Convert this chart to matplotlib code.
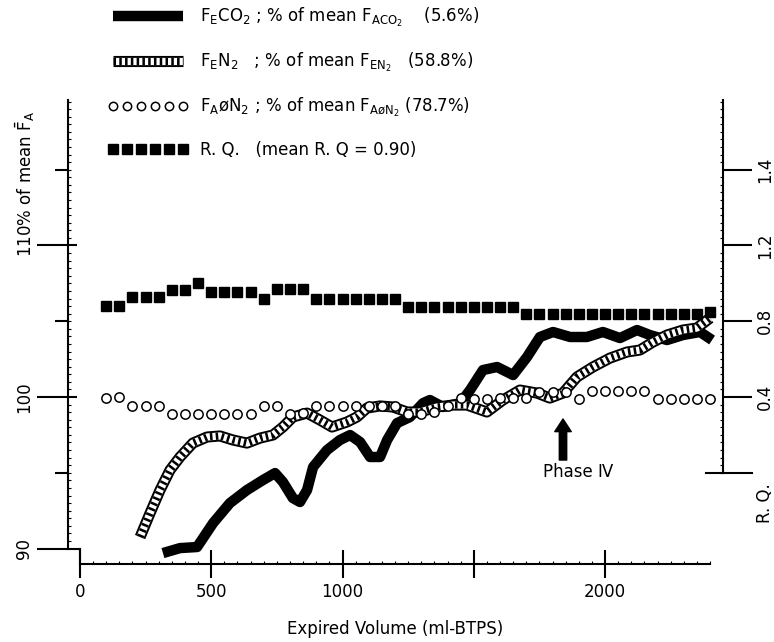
import matplotlib
matplotlib.use("agg")
import matplotlib.pyplot as plt
import matplotlib.ticker as ticker
import matplotlib.transforms as mtransforms
from matplotlib.lines import Line2D
from matplotlib.legend_handler import HandlerTuple
import numpy as np

plt.rcParams['font.family'] = ['DejaVu Sans']
plt.rcParams['mathtext.fontset'] = 'dejavusans'

# expired volume (ml) for the sampled points (R.Q. and FA0N2)
sample_volume = [100, 150, 200, 250, 300, 350, 400, 450, 500, 550, 600, 650, 700, 750,
                 800, 850, 900, 950, 1000, 1050, 1100, 1150, 1200, 1250, 1300, 1350,
                 1400, 1450, 1500, 1550, 1600, 1650, 1700, 1750, 1800, 1850, 1900,
                 1950, 2000, 2050, 2100, 2150, 2200, 2250, 2300, 2350, 2400]

# R.Q. values (right axis)
rq = [0.88, 0.88, 0.93, 0.93, 0.93, 0.965, 0.965, 1.00, 0.955, 0.955, 0.955, 0.955,
      0.92, 0.97, 0.97, 0.97, 0.92, 0.92, 0.92, 0.92, 0.92, 0.92, 0.92, 0.875, 0.875,
      0.875, 0.875, 0.875, 0.875, 0.875, 0.875, 0.875, 0.84, 0.84, 0.84, 0.84, 0.84,
      0.84, 0.84, 0.84, 0.84, 0.84, 0.84, 0.84, 0.84, 0.84, 0.85]

# FA0N2 % of mean
fa_n2 = [99.95, 100.0, 99.4, 99.4, 99.4, 98.9, 98.9, 98.9, 98.9, 98.9, 98.9, 98.9,
         99.4, 99.4, 98.9, 98.95, 99.4, 99.4, 99.4, 99.4, 99.4, 99.4, 99.4, 98.9, 98.9,
         99.0, 99.4, 99.95, 99.9, 99.9, 99.95, 99.95, 99.95, 100.35, 100.35, 100.35,
         99.9, 100.4, 100.4, 100.4, 100.4, 100.4, 99.9, 99.9, 99.9, 99.9, 99.9]

# FECO2 % of mean (continuous trace)
co2_volume = [316, 381, 446, 507, 571, 636, 697, 743, 773, 811, 838, 865, 888, 941,
              990, 1029, 1067, 1105, 1143, 1170, 1208, 1257, 1307, 1333, 1383, 1448,
              1486, 1535, 1589, 1650, 1703, 1752, 1802, 1867, 1931, 1992, 2057, 2122,
              2171, 2236, 2297, 2362, 2408]
co2_pct = [89.7, 90.03, 90.1, 91.68, 93.0, 93.86, 94.52, 94.98, 94.39, 93.33, 93.07,
           93.86, 95.38, 96.5, 97.16, 97.49, 97.03, 96.04, 96.04, 97.16, 98.28, 98.68,
           99.6, 99.8, 99.34, 99.6, 100.46, 101.78, 101.98, 101.45, 102.64, 103.96,
           104.29, 103.96, 103.96, 104.29, 103.89, 104.42, 104.09, 103.76, 104.09,
           104.29, 103.76]

# FEN2 % of mean (continuous trace)
n2_volume = [229, 267, 305, 343, 381, 430, 484, 533, 583, 636, 686, 735, 773, 811, 865,
             914, 960, 1017, 1055, 1093, 1143, 1192, 1246, 1295, 1360, 1421, 1474, 1550,
             1611, 1676, 1741, 1790, 1840, 1893, 1954, 2019, 2084, 2133, 2183, 2236,
             2297, 2350, 2400]
n2_pct = [90.76, 92.34, 93.86, 95.18, 96.04, 96.96, 97.36, 97.43, 97.16, 96.96, 97.29,
          97.49, 98.02, 98.68, 98.94, 98.48, 98.02, 98.35, 98.68, 99.27, 99.41, 99.34,
          99.01, 99.01, 99.34, 99.47, 99.47, 99.01, 99.8, 100.46, 100.26, 99.93, 100.26,
          101.32, 101.98, 102.57, 102.97, 103.1, 103.63, 104.09, 104.42, 104.55, 105.21]

legend_labels = [
    r'F$_{\rm E}$CO$_2$ ; % of mean F$_{\rm ACO_2}$    (5.6%)',
    r'F$_{\rm E}$N$_2$   ; % of mean F$_{\rm EN_2}$   (58.8%)',
    r'F$_{\rm A}$øN$_2$ ; % of mean F$_{\rm AøN_2}$ (78.7%)',
    r'R. Q.   (mean R. Q = 0.90)',
]

fig = plt.figure(figsize=(7.74, 6.42), dpi=100)
ax = fig.add_axes([68 / 774, 1 - 564 / 642, 655 / 774, 464 / 642])
ax.set_xlim(-45.7, 2449.5)
ax.set_ylim(88.98, 119.6)

# FECO2 thick black
ax.plot(co2_volume, co2_pct, color='black', lw=7.5, solid_joinstyle='round',
        solid_capstyle='butt', zorder=2)
# FEN2 hatched band
ax.plot(n2_volume, n2_pct, color='black', lw=8.0, solid_joinstyle='round',
        solid_capstyle='butt', zorder=3)
ax.plot(n2_volume, n2_pct, color='white', lw=5.2, solid_joinstyle='round',
        solid_capstyle='butt', zorder=3)
ax.plot(n2_volume, n2_pct, color='black', lw=5.2, dashes=(0.35, 0.45),
        dash_capstyle='butt', zorder=3)
# FA0N2 open circles
ax.plot(sample_volume, fa_n2, ls='none', marker='o', ms=6.7, mfc='white',
        mec='black', mew=1.1, zorder=4)

# spines
for s in ['top', 'right']:
    ax.spines[s].set_visible(False)
ax.spines['left'].set_bounds(90, 119.6)
ax.spines['bottom'].set_bounds(0, 2400)
for s in ['left', 'bottom']:
    ax.spines[s].set_linewidth(1.5)

# left axis ticks
ax.yaxis.set_major_locator(ticker.FixedLocator([90, 100, 110]))
ax.set_yticklabels(['90', '100', ''])
ax.yaxis.set_minor_locator(ticker.FixedLocator(np.arange(90, 119.6, 0.5)))
ax.tick_params(axis='y', which='major', direction='out', length=22.3, width=1.5,
               labelsize=12, pad=3, labelrotation=90)
ax.tick_params(axis='y', which='minor', direction='in', length=2.5, width=0.8)
plt.setp(ax.get_yticklabels(), va='center')
sec = ax.secondary_yaxis('left')
sec.set_yticks([95, 105, 115])
sec.tick_params(direction='out', length=9.4, width=1.5, labelleft=False)
sec.spines['left'].set_visible(False)
sec_in = ax.secondary_yaxis('left')
sec_in.set_yticks([100, 110])
sec_in.tick_params(direction='in', length=6.5, width=1.5, labelleft=False)
sec_in.spines['left'].set_visible(False)

# bottom axis ticks
ax.set_xticks([0, 500, 1000, 1500, 2000])
ax.set_xticklabels(['0', '500', '1000', '', '2000'])
ax.xaxis.set_minor_locator(ticker.FixedLocator(np.arange(0, 2401, 50)))
ax.tick_params(axis='x', which='major', direction='inout', length=20, width=1.5,
               labelsize=12, pad=4)
ax.tick_params(axis='x', which='minor', direction='in', length=2.5, width=0.8)
ax.set_xlabel('Expired Volume (ml-BTPS)', fontsize=12, labelpad=13)

# corner step of the left axis
ax.plot([ax.get_xlim()[0], 0], [90, 90], color='black', lw=1.5, clip_on=False,
        solid_capstyle='projecting')
ax.plot([0, 0], [ax.get_ylim()[0], 90], color='black', lw=1.5, clip_on=False)

ax.annotate(r'110% of mean $\bar{\rm F}_{\rm A}$', xy=(0, 110),
            xycoords=('axes fraction', 'data'), xytext=(-31, -8),
            textcoords='offset points', rotation=90, ha='center', va='bottom',
            fontsize=12)

# right R.Q. axis
ax2 = ax.twinx()
y0, y1 = ax.get_ylim()
ax2.set_ylim((y0 - 95) / 12.5, (y1 - 95) / 12.5)
for s in ['top', 'left', 'bottom']:
    ax2.spines[s].set_visible(False)
ax2.spines['right'].set_bounds(0, (y1 - 95) / 12.5)
ax2.spines['right'].set_linewidth(1.5)
ax2.yaxis.set_major_locator(ticker.FixedLocator([0.4, 0.8, 1.2, 1.6]))
ax2.set_yticklabels(['0.4', '0.8', '1.2', '1.4'])
ax2.yaxis.set_minor_locator(ticker.FixedLocator(np.arange(0, 1.97, 0.04)))
ax2.tick_params(axis='y', which='major', direction='out', length=21, width=1.5,
                labelsize=12, pad=3, labelrotation=90)
ax2.tick_params(axis='y', which='minor', direction='in', length=2.5, width=0.8)
plt.setp(ax2.get_yticklabels(), va='center')
ax2.plot([(706 - 68) / 655, (752 - 68) / 655], [0, 0], color='black', lw=1.5,
         transform=mtransforms.blended_transform_factory(ax2.transAxes, ax2.transData),
         clip_on=False)
ax2.annotate('R. Q.', xy=(1, 0), xycoords=('axes fraction', 'data'),
             xytext=(30, -22), textcoords='offset points', rotation=90,
             ha='center', va='center', fontsize=12)

# R.Q. squares
ax2.plot(sample_volume, rq, ls='none', marker='s', ms=7.4, color='black', zorder=5)

# Phase IV arrow
ax.annotate('', xy=(1840, 98.55), xytext=(1840, 95.84),
            arrowprops=dict(arrowstyle='simple,head_length=0.65,head_width=0.85,tail_width=0.38',
                            mutation_scale=14, fc='black', ec='black',
                            shrinkA=0, shrinkB=0))
ax.text(1897, 95.05, 'Phase Ⅳ', ha='center', va='center', fontsize=12)

# legend
handles = [
    Line2D([], [], color='black', lw=7.5, solid_capstyle='butt'),
    (Line2D([], [], color='black', lw=8.0, solid_capstyle='butt'),
     Line2D([], [], color='white', lw=5.2, solid_capstyle='butt'),
     Line2D([], [], color='black', lw=5.2, dashes=(0.35, 0.45), dash_capstyle='butt')),
    Line2D([], [], ls='none', marker='o', ms=6.0, mfc='white', mec='black', mew=1.1),
    Line2D([], [], ls='none', marker='s', ms=7.0, color='black'),
]
fig.legend(handles, legend_labels, loc='upper left', bbox_to_anchor=(108 / 774, 1 - 6 / 642),
           frameon=False, fontsize=12, numpoints=6, handlelength=4.8,
           handletextpad=0.7, labelspacing=1.32, borderpad=0, borderaxespad=0,
           handler_map={tuple: HandlerTuple(ndivide=1)})

fig.savefig('out.png', dpi=100)
